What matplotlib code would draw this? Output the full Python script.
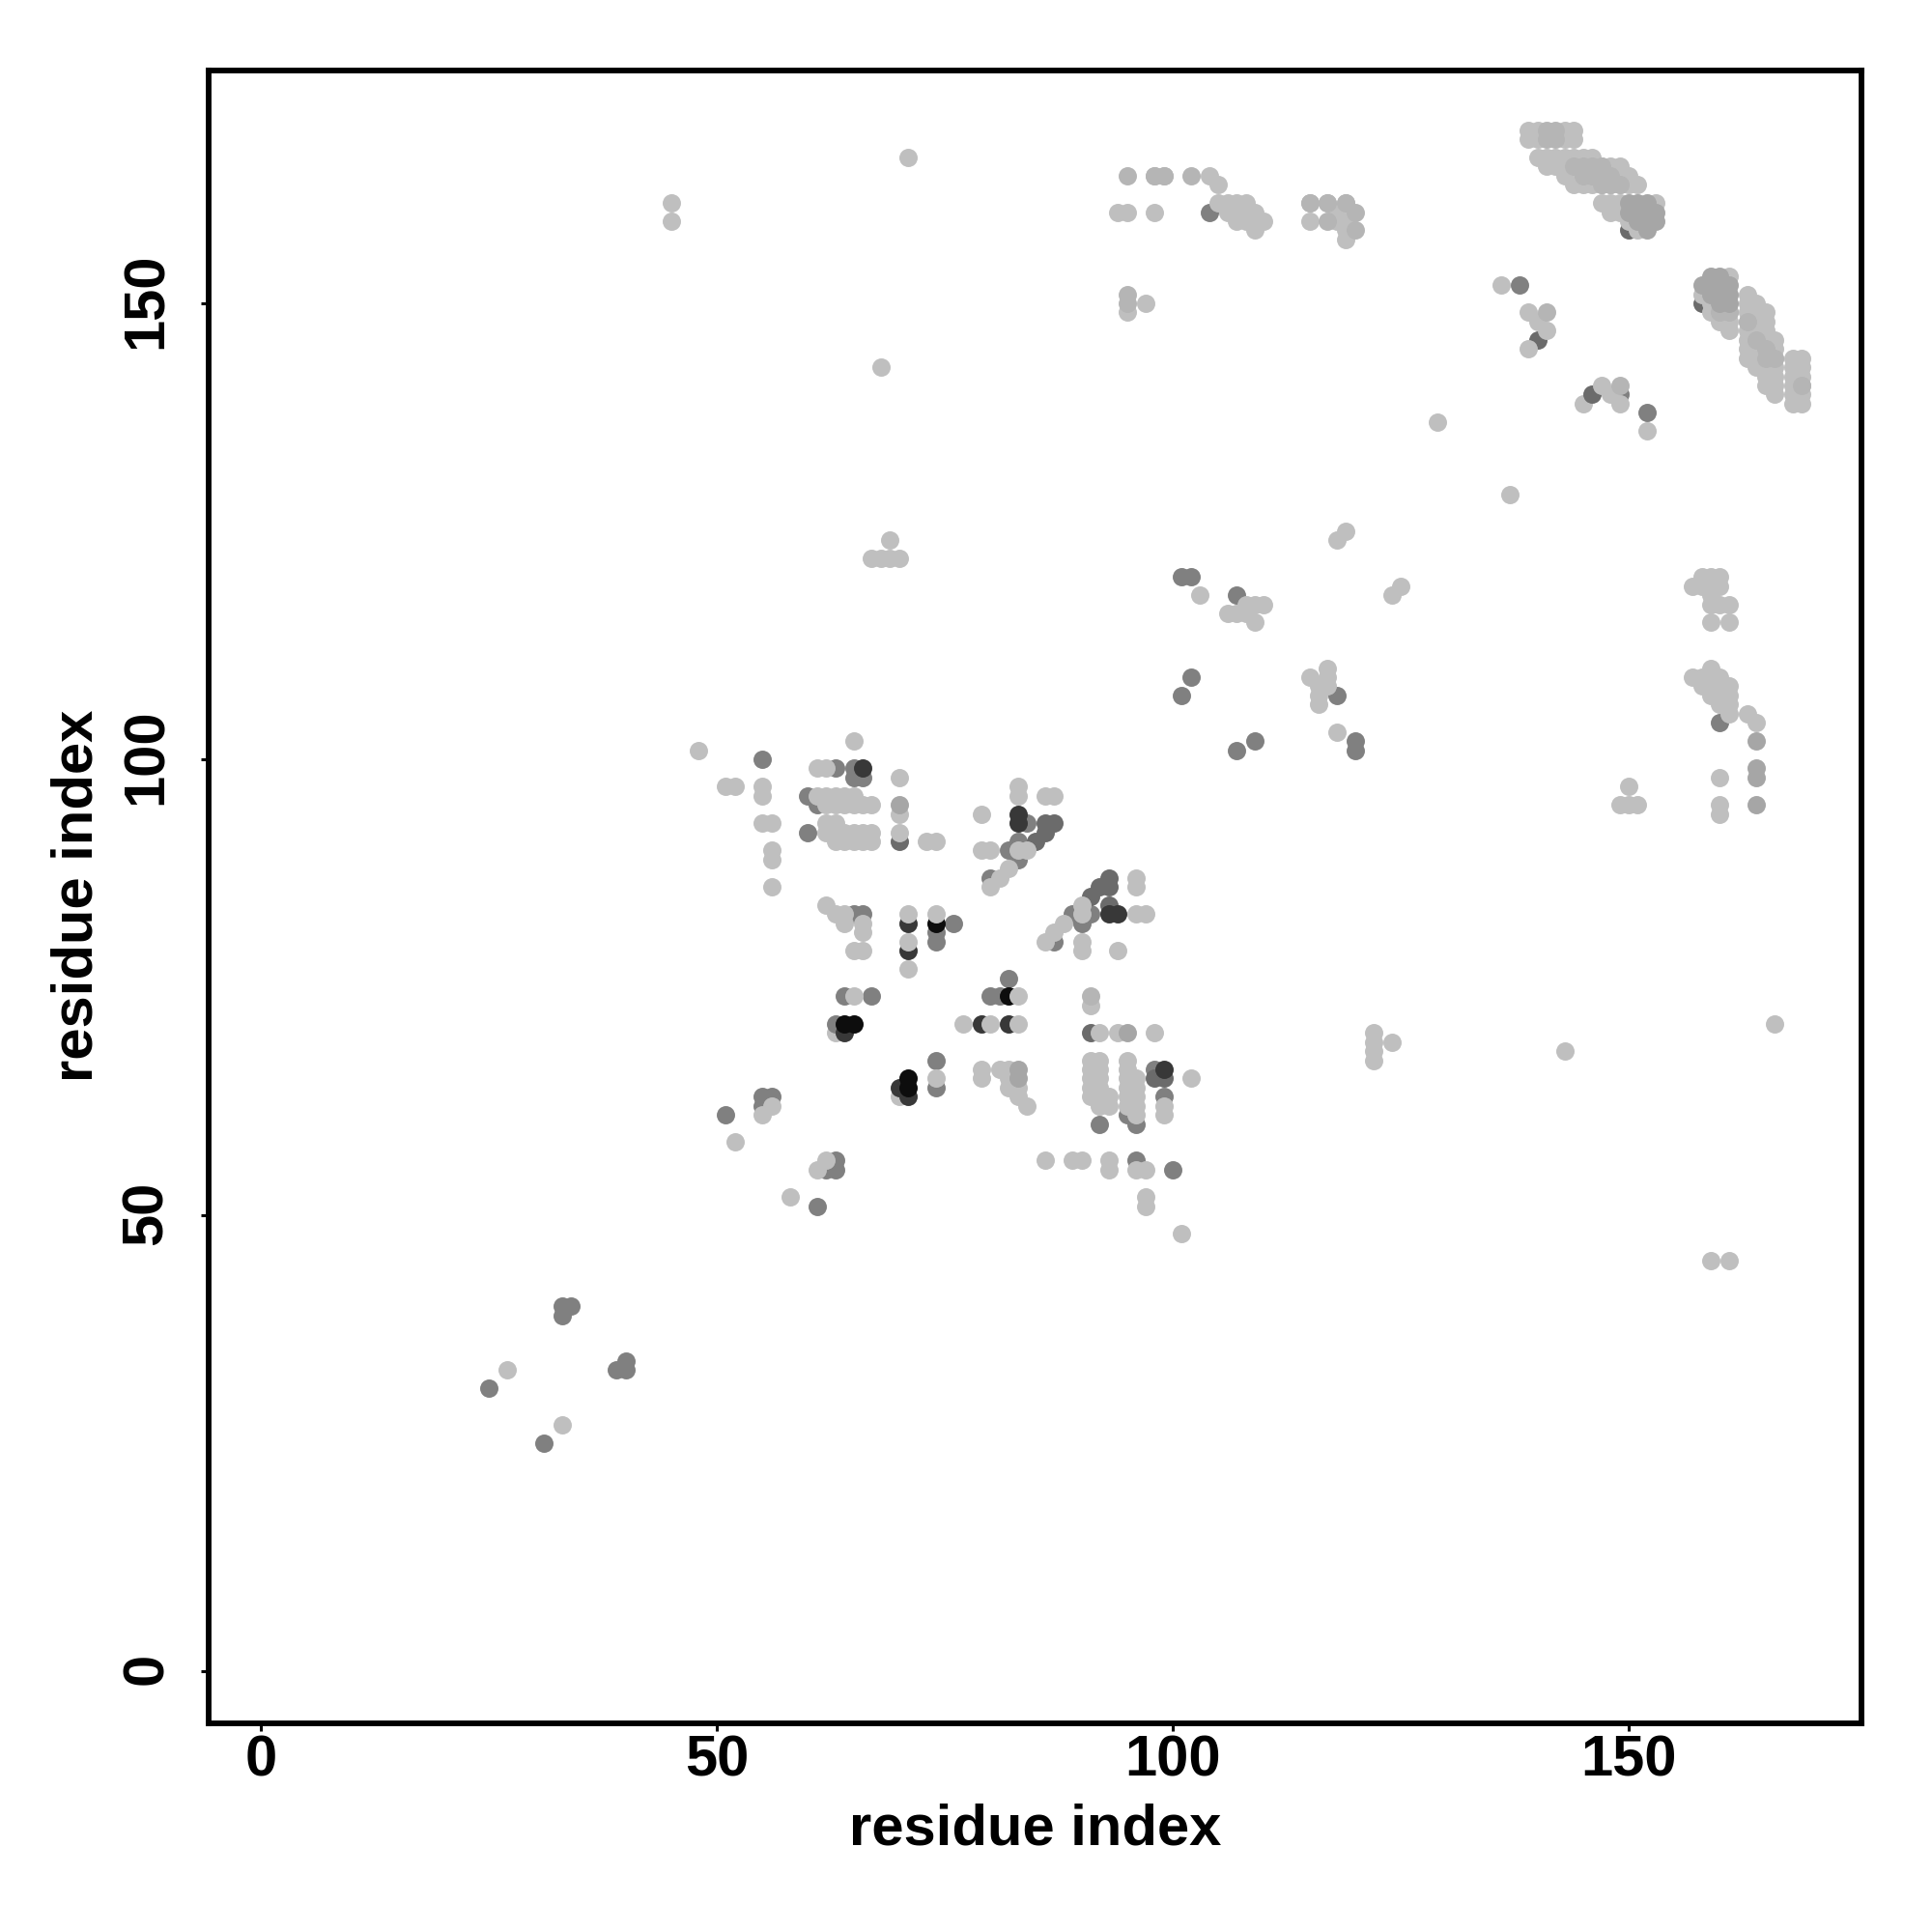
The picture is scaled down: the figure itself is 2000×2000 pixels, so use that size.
import matplotlib
matplotlib.use('Agg')
import matplotlib.pyplot as plt
from matplotlib.transforms import ScaledTranslation

plt.rcParams['font.family'] = ['Liberation Sans', 'DejaVu Sans']
plt.rcParams['font.weight'] = 'bold'

# contacts row by row: (y, [x values on that row])
under_rows = [(70, [63]), (63, [70]), (139, [145])]

mid_rows = [(100, [55]), (99, [63, 65]), (98, [65, 66]), (96, [60]), (95, [61]), (93, [84]),
            (92, [60]), (91, [83]), (90, [82]), (89, [83]), (87, [80]),
            (83, [65, 66, 89, 91]), (82, [76, 90]), (81, [74]), (80, [74, 87]), (76, [82]),
            (74, [64, 67, 80, 81]), (71, [63]), (67, [74]), (66, [98]), (64, [74]),
            (63, [55, 56, 99]), (62, [55]), (61, [51, 95]), (60, [92, 96]), (56, [63, 96]),
            (55, [62, 63, 100]), (51, [61]),
            (40, [33, 34]), (39, [33]), (34, [40]), (33, [39, 40]), (31, [25]), (25, [31]),
            (160, [104]), (152, [138]), (140, [149]), (138, [152]),
            (120, [101, 102]), (118, [107]), (109, [102]), (107, [101, 118]), (104, [160]),
            (102, [109, 120]), (101, [107, 120])]

dim_rows = [(93, [86, 87]), (92, [86]), (91, [70, 85]), (87, [93]), (86, [92, 93]), (85, [91]),
            (84, [93]), (65, [98, 99]), (70, [91]), (158, [150]), (150, [158]), (146, [140]),
            (140, [146])]

dark_rows = [(99, [66]), (94, [83]), (93, [83]), (83, [93, 94]), (82, [71]), (79, [71]),
             (71, [79, 82]), (70, [64]), (66, [99]), (64, [70]), (63, [71])]

black_rows = [(82, [74]), (74, [82]), (71, [64, 65]), (65, [71]), (64, [71])]

pale_rows = [(169, [139, 140, 143, 144]), (168, [139, 140, 143, 144]),
             (166, [140, 141, 142, 143, 144, 145, 146]),
             (165, [141, 142, 143, 144, 145, 146, 147, 148, 149]),
             (164, [143, 144, 145, 146, 147, 148, 149, 150]),
             (163, [144, 145, 146, 147, 148, 149, 150, 151]),
             (161, [147, 148, 149, 153]), (160, [148, 149]), (159, [150]), (158, [151]),
             (153, [161]), (151, [158]), (150, [159]), (149, [159, 160, 161]),
             (148, [160, 161]), (147, [161]),
             (151, [163]), (150, [163, 164]), (149, [163, 164, 165]), (148, [163, 164, 165]),
             (147, [163, 164, 165]), (146, [163, 164, 165, 166]), (145, [163, 164, 165, 166]),
             (144, [163, 164, 165, 166]), (143, [164, 165, 166]), (142, [165, 166]),
             (141, [165, 166]), (140, [166]),
             (144, [168, 169]), (143, [168, 169]), (142, [168, 169]), (141, [168, 169]),
             (140, [168, 169]), (139, [168, 169]),
             (152, [136]), (149, [139]), (148, [140]), (147, [141]), (145, [139]), (141, [147]),
             (140, [148]), (139, [149]), (136, [152]),
             (166, [71]), (164, [98, 99, 104]), (163, [105]), (161, [45, 105, 106, 107, 108]),
             (160, [94, 95, 98, 106, 107, 108, 109]), (159, [45, 107, 108, 109, 110]),
             (158, [109]),
             (161, [115, 117, 119]), (160, [118, 119]), (159, [115, 118, 119]), (158, [119]),
             (157, [119]), (150, [97]), (149, [95]),
             (143, [68]), (137, [129]), (129, [137]), (125, [119]), (124, [69, 118]),
             (122, [67, 68, 69, 70]),
             (120, [158, 159, 160]), (119, [125, 157, 158, 159, 160]), (118, [103, 124, 159]),
             (117, [108, 109, 110, 159, 160, 161]), (116, [106, 107, 108]),
             (115, [109, 159, 161]),
             (110, [117, 159]), (109, [115, 117, 157, 158, 159, 160]),
             (108, [116, 117, 158, 159, 160, 161]), (107, [116, 159, 160, 161]),
             (106, [116, 160, 161]), (105, [161, 163]), (104, [164]), (103, [118]),
             (98, [160]), (97, [150]), (95, [149, 150, 151, 160]), (94, [160]),
             (101, [48]), (102, [65]), (99, [61, 62]), (98, [70]), (97, [51, 52, 55, 83]),
             (96, [55, 61, 62, 63, 64, 65, 83, 86, 87]), (95, [62, 63, 64, 65, 66, 67]),
             (94, [70, 79]), (93, [55, 56, 62, 63]), (92, [62, 63, 64, 65, 66, 67, 70]),
             (91, [63, 64, 65, 66, 67, 73, 74]), (90, [56, 79, 80, 83, 84]), (89, [56]),
             (88, [82]), (87, [81, 96]), (86, [56, 80, 96]),
             (84, [62, 90]), (83, [63, 64, 71, 74, 90, 96, 97]), (82, [64, 66, 88]),
             (81, [66, 87]), (80, [71, 86, 90]), (79, [65, 66, 90, 94]), (77, [71]),
             (74, [65, 83]), (73, [91]), (71, [77, 80, 83, 166]), (70, [92, 94, 98, 122]),
             (69, [122, 124]), (68, [122, 143]), (67, [122, 91, 92, 95]),
             (66, [79, 81, 82, 91, 92, 95]), (65, [74, 79, 82, 91, 92, 95, 96, 102]),
             (64, [82, 83, 91, 92, 95, 96]), (63, [83, 91, 92, 93, 95, 96]),
             (62, [56, 84, 92, 93, 95, 96, 99]), (61, [55, 96, 99]),
             (58, [52]), (56, [62, 86, 89, 90, 93]), (55, [61, 93, 96, 97]), (52, [58, 97]),
             (51, [97]), (48, [101]), (45, [159, 161]), (33, [27]), (27, [33])]

semi_rows = [(169, [141, 142]), (168, [141, 142]), (165, [144, 145, 146, 147]),
             (164, [95, 98, 99, 102, 145, 146, 147, 148]), (163, [147, 148, 149]),
             (161, [115, 117, 119]), (159, [117]), (158, [120]), (160, [120]),
             (151, [95]), (150, [95]), (141, [149, 169]), (149, [141, 160, 161]),
             (148, [163]), (146, [164]), (145, [165]), (144, [165, 166]), (74, [91])]

soft_rows = [(161, [150, 151, 152]), (160, [150, 151, 152, 153]), (159, [151, 152, 153]),
             (158, [152]), (153, [159, 160]), (152, [158, 159, 160, 161]),
             (151, [159, 160, 161]), (150, [160, 161]),
             (95, [70, 164]), (70, [95]), (66, [83]), (65, [83]), (102, [164]), (99, [164]),
             (98, [164])]

# draw order and grey level of each group
groups = [(under_rows, 0.75),
          (mid_rows, 0.50),
          (dim_rows, 0.42),
          (dark_rows, 0.22),
          (black_rows, 0.05),
          (pale_rows, 0.75),
          (semi_rows, 0.71),
          (soft_rows, 0.65)]

fig = plt.figure(figsize=(20, 20), dpi=100)
ax = fig.add_axes([216 / 2000, 216 / 2000, 1711 / 2000, 1711 / 2000])

for rows, grey in groups:
    xs = []
    ys = []
    for y, row in rows:
        xs += row
        ys += [y] * len(row)
    ax.scatter(xs, ys, s=186, color=str(grey), linewidths=0, zorder=2)

ax.set_xlim(-5.72, 175.53)
ax.set_ylim(-5.72, 175.53)
ax.set_xticks([0, 50, 100, 150])
ax.set_yticks([0, 50, 100, 150])

for spine in ax.spines.values():
    spine.set_linewidth(4.2)

ax.tick_params(axis='x', length=6, width=2.2, labelsize=43, pad=2)
ax.tick_params(axis='y', length=6, width=2.2, labelsize=43, pad=20)

# rotated labels sit a little low, nudge them up
nudge = ScaledTranslation(0, 2.5 / 100, fig.dpi_scale_trans)
for label in ax.get_yticklabels():
    label.set_rotation(90)
    label.set_va('center')
    label.set_transform(label.get_transform() + nudge)

fig.text(1072 / 2000, 1 - 1894 / 2000, 'residue index', fontsize=43,
         ha='center', va='center')
fig.text(80 / 2000, 1 - 927 / 2000, 'residue index', fontsize=43,
         rotation=90, ha='center', va='center')

fig.savefig('out.png', dpi=100)
